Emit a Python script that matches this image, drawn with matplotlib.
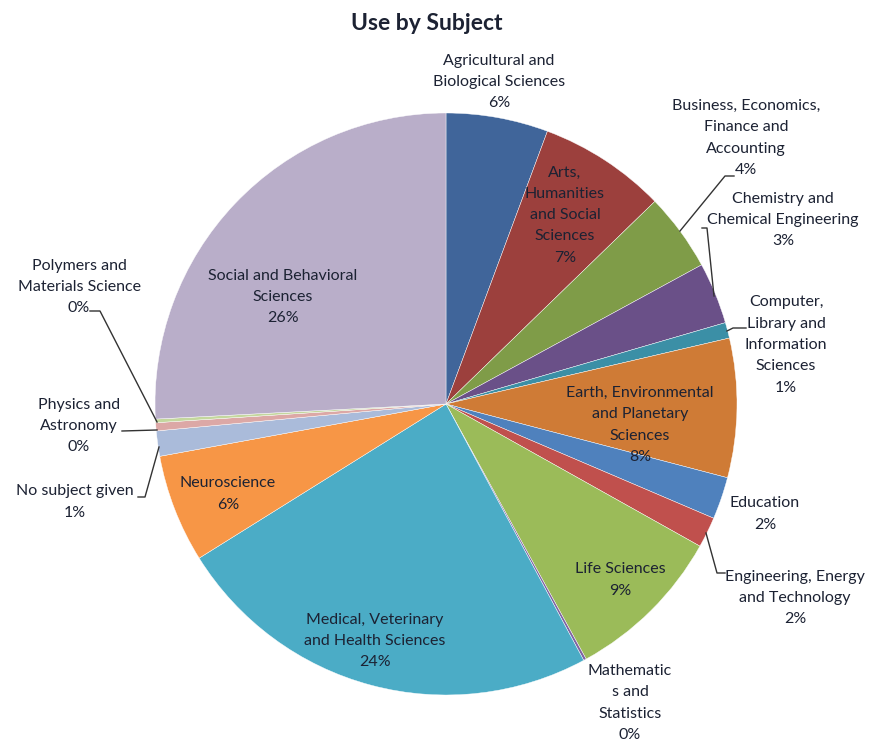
import numpy as np
import matplotlib
matplotlib.use("Agg")
import matplotlib.pyplot as plt

plt.rcParams['font.family'] = ['Lato', 'DejaVu Sans']

# shares by subject, clockwise from 12 o'clock
subjects = ["Agricultural and\nBiological Sciences",
            "Arts,\nHumanities\nand Social\nSciences",
            "Business, Economics,\nFinance and\nAccounting",
            "Chemistry and\nChemical Engineering",
            "Computer,\nLibrary and\nInformation\nSciences",
            "Earth, Environmental\nand Planetary\nSciences",
            "Education",
            "Engineering, Energy\nand Technology",
            "Life Sciences",
            "Mathematic\ns and\nStatistics",
            "Medical, Veterinary\nand Health Sciences",
            "Neuroscience",
            "No subject given",
            "Physics and\nAstronomy",
            "Polymers and\nMaterials Science",
            "Social and Behavioral\nSciences"]
shares = [5.66, 7.07, 4.32, 3.42, 0.87, 7.71, 2.34, 1.70, 8.87, 0.15,
          23.94, 6.0, 1.4, 0.45, 0.2, 25.8]
colors = ["#40659A", "#9C403D", "#7F9C48", "#6A5088", "#3B8FA6", "#CF7B36",
          "#4F81BD", "#C0504D", "#9BBB59", "#8064A2", "#4BACC6", "#F79646",
          "#AABBDA", "#DCA8A6", "#C4D79E", "#B9AEC9"]

# label centres (pixels) and leader lines
label_pos = [(499, 82), (565, 215), (746, 138), (783, 220), (786, 345),
             (640, 425), (765, 514), (795, 598), (620, 580), (630, 703),
             (375, 641), (228, 494), (75, 502), (79, 426), (79, 287),
             (283, 297)]
leaders = {2: [(680, 231), (725, 176), (734, 176)],
           3: [(714, 296), (707, 228), (702, 228)],
           4: [(727, 331), (733, 328), (746, 328)],
           7: [(706, 533), (717, 573), (725, 573)],
           12: [(159, 447), (145, 497), (138, 497)],
           13: [(157, 430), (122, 431)],
           14: [(157, 422), (100, 311), (90, 311)]}

W, H = 869, 744
cx, cy, R = 446, 404, 291


def px(x, y):
    return (x - cx) / R, (cy - y) / R


fig = plt.figure(figsize=(W / 100, H / 100), dpi=100)
ax = fig.add_axes([(cx - R) / W, (H - cy - R) / H, 2 * R / W, 2 * R / H])
ax.pie(shares, colors=colors, startangle=90, counterclock=False, radius=1,
       wedgeprops=dict(edgecolor="white", linewidth=0.3))
ax.set_xlim(-1, 1)
ax.set_ylim(-1, 1)
ax.axis("off")

total = sum(shares)
for i, name in enumerate(subjects):
    x, y = px(*label_pos[i])
    ax.text(x, y, f"{name}\n{shares[i] / total * 100:.0f}%", ha="center",
            va="center", fontsize=11.5, color="#1c2233", linespacing=1.66)

for pts in leaders.values():
    xy = np.array([px(*p) for p in pts])
    ax.plot(xy[:, 0], xy[:, 1], color="#333333", lw=1, clip_on=False)

fig.text(427 / W, 1 - 24 / H, "Use by Subject", ha="center", va="center",
         fontsize=16.5, fontweight="bold", color="#1c2233")

fig.savefig("out.png", dpi=100)
